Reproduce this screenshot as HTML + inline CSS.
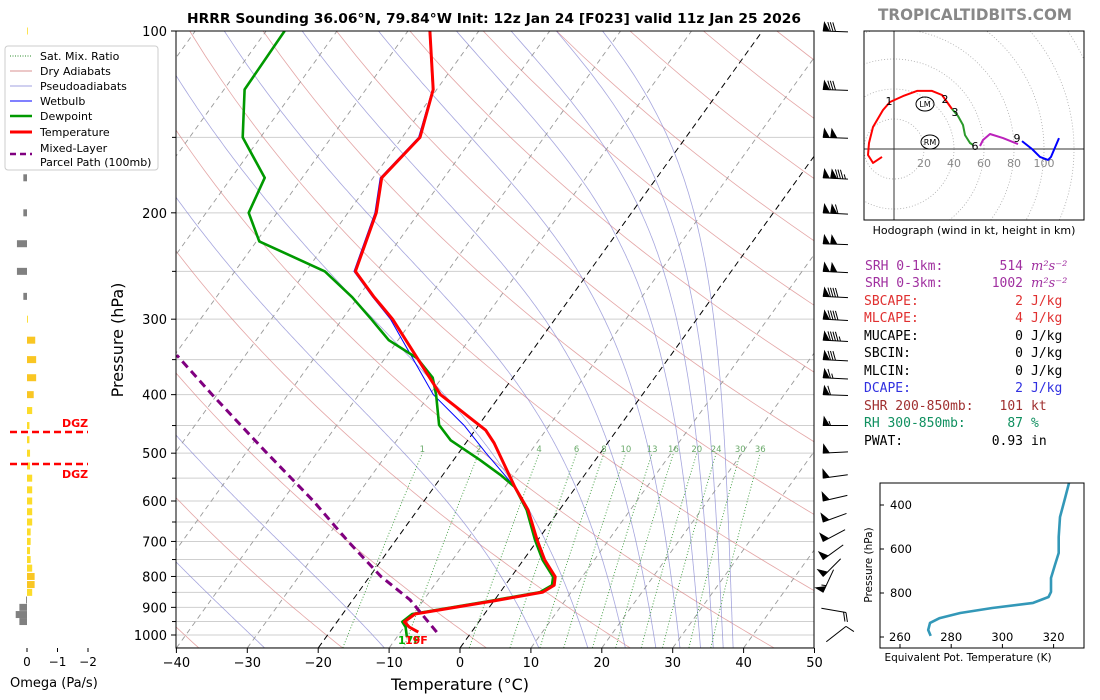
<!DOCTYPE html>
<html><head><meta charset="utf-8"><title>HRRR Sounding</title>
<style>
html,body{margin:0;padding:0;background:#fff;}
svg{display:block;font-family:"DejaVu Sans","Liberation Sans",sans-serif;}
.mono{font-family:"DejaVu Sans Mono","Liberation Mono",monospace;font-size:13px;}
</style></head>
<body>
<svg id="chart" xmlns="http://www.w3.org/2000/svg" width="1100" height="700" viewBox="0 0 1100 700">
<defs>
<clipPath id="mainclip"><rect x="176" y="31" width="638" height="617"/></clipPath>
<clipPath id="hodoclip"><rect x="864" y="31" width="220" height="189"/></clipPath>
<clipPath id="thclip"><rect x="880" y="483" width="204" height="165"/></clipPath>
</defs>
<rect x="0" y="0" width="1100" height="700" fill="#fff"/>
<text x="494" y="23" text-anchor="middle" font-size="13" font-weight="bold" textLength="614" lengthAdjust="spacingAndGlyphs">HRRR Sounding 36.06°N, 79.84°W Init: 12z Jan 24 [F023] valid 11z Jan 25 2026</text>
<text x="975" y="20" text-anchor="middle" font-size="16" font-weight="bold" fill="#888" textLength="194" lengthAdjust="spacingAndGlyphs">TROPICALTIDBITS.COM</text>
<g id="bg" clip-path="url(#mainclip)"></g>
<g id="profiles" clip-path="url(#mainclip)"></g>
<g id="axes"></g>
<g id="barbs"></g>
<g id="omega"></g>
<g id="legend">
 <rect x="5" y="46" width="153" height="124" rx="3" fill="#fff" stroke="#ccc"/>
 <line x1="10" y1="56" x2="32" y2="56" stroke="#2a8a2a" stroke-dasharray="1,1.5" stroke-width="1"/>
 <text x="40" y="60" font-size="11">Sat. Mix. Ratio</text>
 <line x1="10" y1="71" x2="32" y2="71" stroke="#d89090" stroke-width="1"/>
 <text x="40" y="75" font-size="11">Dry Adiabats</text>
 <line x1="10" y1="86" x2="32" y2="86" stroke="#a0a0e0" stroke-width="1"/>
 <text x="40" y="90" font-size="11">Pseudoadiabats</text>
 <line x1="10" y1="101" x2="32" y2="101" stroke="#0000ff" stroke-width="1"/>
 <text x="40" y="105" font-size="11">Wetbulb</text>
 <line x1="10" y1="116" x2="32" y2="116" stroke="#009900" stroke-width="2.5"/>
 <text x="40" y="120" font-size="11">Dewpoint</text>
 <line x1="10" y1="132" x2="32" y2="132" stroke="#ff0000" stroke-width="3"/>
 <text x="40" y="136" font-size="11">Temperature</text>
 <line x1="10" y1="154" x2="32" y2="154" stroke="#800080" stroke-width="2.5" stroke-dasharray="6,4"/>
 <text x="40" y="152" font-size="11">Mixed-Layer</text>
 <text x="40" y="166" font-size="11">Parcel Path (100mb)</text>
</g>
<g id="hodo"></g>
<g id="stats" class="mono">
 <text x="865" y="270" fill="#a030a0">SRH 0-1km:</text><text x="1023" y="270" fill="#a030a0" text-anchor="end">514</text><text x="1031" y="270" fill="#a030a0" font-style="italic" font-family="DejaVu Serif,serif">m²s⁻²</text>
 <text x="865" y="287" fill="#a030a0">SRH 0-3km:</text><text x="1023" y="287" fill="#a030a0" text-anchor="end">1002</text><text x="1031" y="287" fill="#a030a0" font-style="italic" font-family="DejaVu Serif,serif">m²s⁻²</text>
 <text x="864" y="305" fill="#e03030">SBCAPE:</text><text x="1023" y="305" fill="#e03030" text-anchor="end">2</text><text x="1031" y="305" fill="#e03030">J/kg</text>
 <text x="864" y="322" fill="#e03030">MLCAPE:</text><text x="1023" y="322" fill="#e03030" text-anchor="end">4</text><text x="1031" y="322" fill="#e03030">J/kg</text>
 <text x="864" y="340" fill="#000">MUCAPE:</text><text x="1023" y="340" text-anchor="end">0</text><text x="1031" y="340">J/kg</text>
 <text x="864" y="357" fill="#000">SBCIN:</text><text x="1023" y="357" text-anchor="end">0</text><text x="1031" y="357">J/kg</text>
 <text x="864" y="375" fill="#000">MLCIN:</text><text x="1023" y="375" text-anchor="end">0</text><text x="1031" y="375">J/kg</text>
 <text x="864" y="392" fill="#3030e0">DCAPE:</text><text x="1023" y="392" fill="#3030e0" text-anchor="end">2</text><text x="1031" y="392" fill="#3030e0">J/kg</text>
 <text x="864" y="410" fill="#a03030">SHR 200-850mb:</text><text x="1023" y="410" fill="#a03030" text-anchor="end">101</text><text x="1031" y="410" fill="#a03030">kt</text>
 <text x="864" y="427" fill="#109060">RH 300-850mb:</text><text x="1023" y="427" fill="#109060" text-anchor="end">87</text><text x="1031" y="427" fill="#109060">%</text>
 <text x="864" y="445" fill="#000">PWAT:</text><text x="1023" y="445" text-anchor="end">0.93</text><text x="1031" y="445">in</text>
</g>
<g id="theta"></g>
</svg>
<script>
// ===== Data =====
const tempP=[100,125,150,175,200,250,275,300,400,458,481,569,621,696,751,801,827,849,878,923,951,970,989];
const tempT=[-66.9,-60.5,-57.5,-58.8,-56,-53,-47.9,-42.9,-28.5,-18.5,-16,-8.6,-4.4,-0.1,3.0,6.2,6.9,6.0,0,-9.8,-10.5,-9.3,-7.5];
const dewP=[100,125,150,175,200,223,250,276,300,325,348,375,400,449,476,513,543,569,621,696,751,801,827,849,878,923,951,970,1008];
const dewT=[-87.4,-87.1,-82.5,-75.3,-74,-69.6,-57.3,-50.8,-45.9,-41.3,-35.5,-31.3,-29.1,-25.6,-22.4,-16.3,-11.9,-8.6,-4.6,-0.4,2.7,5.9,6.6,5.6,-0.5,-10.2,-10.8,-9.8,-8.6];
const wetP=[100,125,150,175,200,250,275,300,400,450,500,569,621,696,751,801,827,849,878,923,951,970,989];
const wetT=[-67,-60.6,-57.7,-59,-56.2,-53.2,-48.1,-43.2,-29.5,-22,-16.1,-8.6,-4.5,-0.2,2.9,6.1,6.8,5.9,-0.2,-10,-10.6,-9.5,-7.8];
const parcelP=[989,875,800,700,600,500,400,344];
const parcelT=[-4.9,-11.9,-18.4,-26.6,-35.6,-47,-60.7,-69.7];
const mixRatios=[1,2,4,6,8,10,13,16,20,24,30,36];
const dryThetaK=[153,173,193,213,233,253,273,293,313,333,353,373,393,413,433,453,473,493,513,533,553,573,593,613];
const moistT1050=[-45,-27.6,-10.7,11.1,18,23.3,27.6,31,33.9,35.7,37.1,38.5];
const isotherms=[-140,-130,-120,-110,-100,-90,-80,-70,-60,-50,-40,-30,-20,-10,0,10,20,30,40,50];
const pTickLabels=[100,200,300,400,500,600,700,800,900,1000];
const pMinorTicks=[150,250,350,450,550,650,750,850,950];
const tTickLabels=[-40,-30,-20,-10,0,10,20,30,40,50];
const barbP=[100,125,150,175,200,225,250,275,300,325,350,375,400,450,500,550,600,650,700,750,800,850,925,975];
const barbS=[80,80,100,135,110,100,100,90,90,95,80,65,60,55,50,50,50,50,50,50,50,55,20,10];
const barbA=[2,2,2,3,3,2,3,3,3,3,3,3,2,0,-3,-8,-13,-20,-28,-36,-45,-65,190,142];
const omegaP=[100,150,175,200,225,250,275,300,325,350,375,400,425,450,475,500,525,550,575,600,625,650,675,700,725,750,775,800,825,850,875,900,925,950];
const omegaV=[-0.02,0.15,0.12,0.12,0.33,0.33,0.12,-0.03,-0.27,-0.3,-0.3,-0.22,-0.17,-0.08,-0.08,-0.1,-0.1,-0.17,-0.17,-0.17,-0.17,-0.17,-0.12,-0.12,-0.1,-0.12,-0.17,-0.25,-0.25,-0.17,0.03,0.25,0.37,0.25];
const hodoRedU=[-8,-14,-17.3,-16.7,-14,-7.3,-2.7,6,15.3,25.3,32,38.7];
const hodoRedV=[-5.3,-9.3,-4,4,14.7,26,31.3,35.3,38.7,38.7,36,26.7];
const hodoGreenU=[38.7,42.7,46,47.3,50.7,52.7];
const hodoGreenV=[26.7,22,16,9.3,4,2.7];
const hodoMagU=[57.3,59.3,64,72.7,82.7];
const hodoMagV=[2,6,10,7.3,3.3];
const hodoBlueU=[85.3,92,97.3,102.7,104.7,110];
const hodoBlueV=[5.3,0,-5.3,-7.3,-5.3,7.3];
const thetaEP=[300,368,455,545,618,673,732,795,818,845,868,891,914,936,968,995];
const thetaEV=[326,324.5,322.5,322,322,320.5,319,319,318,312,296,283.5,275.5,271.7,271,272];
const thTicksX=[260,280,300,320];
const thTicksP=[400,600,800,1000];
const hodoRings=[20,40,60,80,100,120,140];
const hodoLabels=[20,40,60,80,100];

// ===== Helpers =====
const NS='http://www.w3.org/2000/svg';
function mk(parent,tag,attrs,txt){const e=document.createElementNS(NS,tag);for(const k in attrs)e.setAttribute(k,attrs[k]);if(txt!==undefined)e.textContent=txt;parent.appendChild(e);return e;}
const X0=460,PXT=7.09,SK=0.72,YB=648;
function yp(p){return 31+604*Math.log10(p/100);}
function xp(T,p){return X0+T*PXT+(YB-yp(p))*SK;}
function ptsTP(P,T){return P.map((p,i)=>xp(T[i],p).toFixed(1)+','+yp(p).toFixed(1)).join(' ');}
const bg=document.getElementById('bg');
const prof=document.getElementById('profiles');
const axes=document.getElementById('axes');

for(let p=100;p<=1050;p+=50){
 const g=mk(bg,'line',{x1:176,x2:814,y1:yp(p),y2:yp(p),stroke:'#cfcfcf','stroke-width':1});
 
 
}
dryThetaK.forEach(th=>{
 const P=[],T=[];for(let p=1050;p>=100;p-=10){P.push(p);T.push(th*Math.pow(p/1000,0.286)-273.15);}
 const l=mk(bg,'polyline',{points:ptsTP(P,T),fill:'none',stroke:'#d88080','stroke-width':0.8,'stroke-opacity':0.7});
 
 
});
function es(Tk){return 6.112*Math.exp(17.67*(Tk-273.15)/(Tk-29.65));}
function dTdp(Tk,p){const r=0.622*es(Tk)/(p-es(Tk));return (287.04*Tk+2.501e6*r)/(1005.7+2.501e6*2.501e6*r*0.622/(287.04*Tk*Tk))/p;}
moistT1050.forEach(t0=>{
 let Tk=t0+273.15;const P=[],T=[];
 for(let p=1050;p>=100;p-=2){P.push(p);T.push(Tk-273.15);
  const k1=dTdp(Tk,p),k2=dTdp(Tk-k1,p-1),k3=dTdp(Tk-k2,p-1),k4=dTdp(Tk-2*k3,p-2);Tk-=2*(k1+2*k2+2*k3+k4)/6;}
 const l=mk(bg,'polyline',{points:ptsTP(P,T),fill:'none',stroke:'#8080d0','stroke-width':0.8,'stroke-opacity':0.7});
 
 
});
isotherms.forEach(t=>{
 const dark=(t===0||t===-20);
 const l=mk(bg,'line',{x1:xp(t,1050),y1:yp(1050),x2:xp(t,100),y2:yp(100),stroke:dark?'#000':'#999','stroke-width':dark?1:0.9,'stroke-dasharray':dark?'6,4':'5,4'});
 
 
});
function tdFromW(w,p){const e=w*p/(622+w);const a=Math.log(e/6.112);return 243.5*a/(17.67-a);}
mixRatios.forEach(w=>{
 const P=[],T=[];for(let p=1050;p>=500;p-=10){P.push(p);T.push(tdFromW(w,p));}
 const l=mk(bg,'polyline',{points:ptsTP(P,T),fill:'none',stroke:'#3a9a3a','stroke-width':0.9,'stroke-dasharray':'1,2'});
 
 
 const t=mk(bg,'text',{x:xp(tdFromW(w,500),500),y:yp(500)-1,'text-anchor':'middle','font-size':8.5,fill:'#6aaa6a'},String(w));
 
 
});
let e;
e=mk(prof,'polyline',{points:ptsTP(wetP,wetT),fill:'none',stroke:'#0000ff','stroke-width':1});


e=mk(prof,'polyline',{points:ptsTP(dewP,dewT),fill:'none',stroke:'#009900','stroke-width':2.6,'stroke-linejoin':'round'});


e=mk(prof,'polyline',{points:ptsTP(tempP,tempT),fill:'none',stroke:'#ff0000','stroke-width':3,'stroke-linejoin':'round'});


e=mk(prof,'polyline',{points:ptsTP(parcelP,parcelT),fill:'none',stroke:'#800080','stroke-width':3,'stroke-dasharray':'8,5'});


e=mk(prof,'text',{x:398,y:644,'font-size':11,'font-weight':'bold',fill:'#00aa00'},'17F');


e=mk(prof,'text',{x:405,y:644,'font-size':11,'font-weight':'bold',fill:'#ff0000'},'19F');



e=mk(axes,'rect',{x:176,y:31,width:638,height:617,fill:'none',stroke:'#000','stroke-width':1});


pTickLabels.forEach(p=>{
 mk(axes,'line',{x1:171,x2:176,y1:yp(p),y2:yp(p),stroke:'#000'});
 const t=mk(axes,'text',{x:167,y:yp(p)+5,'text-anchor':'end','font-size':13},String(p));
 
 
});
pMinorTicks.forEach(p=>{mk(axes,'line',{x1:172,x2:176,y1:yp(p),y2:yp(p),stroke:'#000'});});
tTickLabels.forEach(t=>{
 const x=X0+t*PXT;
 mk(axes,'line',{x1:x,x2:x,y1:648,y2:653,stroke:'#000'});
 const l=mk(axes,'text',{x:x,y:667,'text-anchor':'middle','font-size':13},String(t).replace('-','\u2212'));
 
 
});
e=mk(axes,'text',{x:460,y:690,'text-anchor':'middle','font-size':16},'Temperature (°C)');


e=mk(axes,'text',{x:123,y:340,'text-anchor':'middle','font-size':16,transform:'rotate(-90 123 340)'},'Pressure (hPa)');



// wind barbs
const bgp=document.getElementById('barbs');
barbP.forEach((p,i)=>{
 const y=yp(p),a=barbA[i]*Math.PI/180,dx=Math.cos(a),dy=Math.sin(a);
 const rev=Math.abs(barbA[i])>90;
 const tx=rev?846:823,ty=rev?y-2:y;
 const L=25,ux=dy,uy=-dx;
 const g=mk(bgp,'g',{});
 
 
 mk(g,'line',{x1:tx,y1:ty,x2:tx+dx*L,y2:ty+dy*L,stroke:'#000','stroke-width':1});
 let s=Math.round(barbS[i]/5)*5,pos=0;
 while(s>=50){
  const ax=tx+dx*pos,ay=ty+dy*pos,bx=tx+dx*(pos+6.5),by=ty+dy*(pos+6.5);
  mk(g,'polygon',{points:`${ax},${ay} ${bx},${by} ${ax+ux*9+dx*1},${ay+uy*9+dy*1}`,fill:'#000',stroke:'#000','stroke-width':0.6});
  pos+=7.5;s-=50;
 }
 while(s>=10){const ax=tx+dx*pos,ay=ty+dy*pos;mk(g,'line',{x1:ax,y1:ay,x2:ax+ux*9-dx*3,y2:ay+uy*9-dy*3,stroke:'#000','stroke-width':1});pos+=2.5;s-=10;}
 if(s>=5){const ax=tx+dx*pos,ay=ty+dy*pos;mk(g,'line',{x1:ax,y1:ay,x2:ax+ux*4.5-dx*1.5,y2:ay+uy*4.5-dy*1.5,stroke:'#000','stroke-width':1});}
});

// omega panel
const om=document.getElementById('omega');
const oX=v=>27-v*30.5;
omegaP.forEach((p,i)=>{
 const v=omegaV[i],x0=oX(0),x1=oX(v);
 const col=v>0?'#808080':(v<-0.2?'#f9c623':'#fcdc2a');
 const r=mk(om,'rect',{x:Math.min(x0,x1),y:yp(p)-3.5,width:Math.max(Math.abs(x1-x0),0.8),height:7,fill:col});
 
 
});
[0,-1,-2].forEach(v=>{
 mk(om,'line',{x1:oX(v),x2:oX(v),y1:648,y2:652,stroke:'#000'});
 const t=mk(om,'text',{x:oX(v),y:666,'text-anchor':'middle','font-size':12},v===0?'0':'\u2212'+(-v));
 
 
});
e=mk(om,'text',{x:10,y:687,'font-size':13},'Omega (Pa/s)');


[432,464].forEach((y,i)=>{
 const l=mk(om,'line',{x1:10,x2:88,y1:y,y2:y,stroke:'#ff0000','stroke-width':2.5,'stroke-dasharray':'7,4'});
 
 
 const t=mk(om,'text',{x:62,y:i===0?427:478,'font-size':11,'font-weight':'bold',fill:'#ff0000'},'DGZ');
 
 
});

// hodograph
const ho=document.getElementById('hodo');
const HX=894,HY=149,HS=1.5;
const hc=mk(ho,'g',{'clip-path':'url(#hodoclip)'});
hodoRings.forEach(r=>{mk(hc,'circle',{cx:HX,cy:HY,r:r*HS,fill:'none',stroke:'#aaa','stroke-width':0.8,'stroke-dasharray':'1,2'});});
mk(hc,'line',{x1:HX,x2:HX,y1:31,y2:220,stroke:'#333','stroke-width':1});
mk(hc,'line',{x1:864,x2:1084,y1:HY,y2:HY,stroke:'#333','stroke-width':1});
hodoLabels.forEach(v=>{mk(hc,'text',{x:HX+v*HS,y:HY+18,'text-anchor':'middle','font-size':11,fill:'#888'},String(v));});
function hpts(U,V){return U.map((u,i)=>(HX+u*HS).toFixed(1)+','+(HY-V[i]*HS).toFixed(1)).join(' ');}
[[hodoRedU,hodoRedV,'#ff0000','hodo-0-3km'],[hodoGreenU,hodoGreenV,'#2a9a2a','hodo-3-6km'],[hodoMagU,hodoMagV,'#bb22bb','hodo-6-9km'],[hodoBlueU,hodoBlueV,'#0000ff','hodo-9-12km']].forEach(s=>{
 const l=mk(hc,'polyline',{points:hpts(s[0],s[1]),fill:'none',stroke:s[2],'stroke-width':2,'stroke-linejoin':'round'});
 
 
});
[['1',889,105],['2',945,103],['3',955,116],['6',975,150],['9',1017,142]].forEach(a=>{mk(hc,'text',{x:a[1],y:a[2],'text-anchor':'middle','font-size':11},a[0]);});
mk(hc,'ellipse',{cx:925,cy:104,rx:9,ry:7,fill:'none',stroke:'#000','stroke-width':1});
mk(hc,'text',{x:925,y:107,'text-anchor':'middle','font-size':8},'LM');
mk(hc,'ellipse',{cx:930,cy:142,rx:9,ry:7,fill:'none',stroke:'#000','stroke-width':1});
mk(hc,'text',{x:930,y:145,'text-anchor':'middle','font-size':8},'RM');
mk(ho,'rect',{x:864,y:31,width:220,height:189,fill:'none',stroke:'#000','stroke-width':1});
e=mk(ho,'text',{x:974,y:234,'text-anchor':'middle','font-size':11},'Hodograph (wind in kt, height in km)');



// theta-e panel
const th=document.getElementById('theta');
const tx=v=>900+(v-260)*2.56, ty=p=>505+(p-400)*0.22;
const tc=mk(th,'g',{'clip-path':'url(#thclip)'});
e=mk(tc,'polyline',{points:thetaEP.map((p,i)=>tx(thetaEV[i]).toFixed(1)+','+ty(p).toFixed(1)).join(' '),fill:'none',stroke:'#3398b8','stroke-width':2.6,'stroke-linejoin':'round'});


mk(th,'rect',{x:880,y:483,width:204,height:165,fill:'none',stroke:'#000','stroke-width':1});
thTicksX.forEach(v=>{mk(th,'line',{x1:tx(v),x2:tx(v),y1:648,y2:644,stroke:'#000'});mk(th,'text',{x:tx(v),y:641,'text-anchor':'middle','font-size':11.5},String(v));});
thTicksP.forEach(p=>{mk(th,'line',{x1:880,x2:884,y1:ty(p),y2:ty(p),stroke:'#000'});if(p<1000)mk(th,'text',{x:890,y:ty(p)+4,'font-size':11.5},String(p));});
e=mk(th,'text',{x:968,y:661,'text-anchor':'middle','font-size':10.5},'Equivalent Pot. Temperature (K)');


e=mk(th,'text',{x:872,y:565,'text-anchor':'middle','font-size':10.5,transform:'rotate(-90 872 565)'},'Pressure (hPa)');


</script>
</body></html>
